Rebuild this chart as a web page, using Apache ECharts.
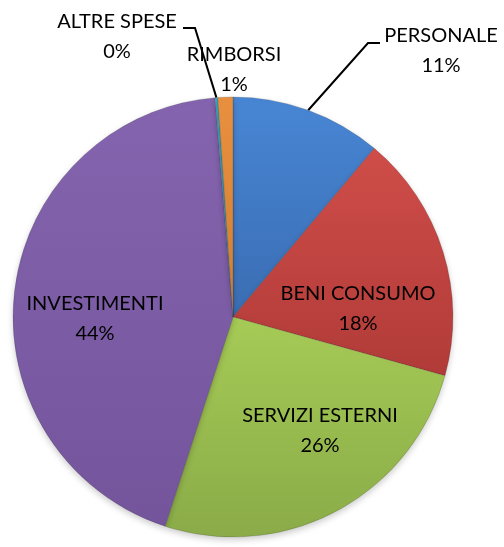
<!DOCTYPE html>
<html>
<head>
<meta charset="utf-8">
<script src="https://cdn.jsdelivr.net/npm/echarts@6/dist/echarts.min.js"></script>
<style>
	html, body { margin: 0; padding: 0; background: #fff; }
	#pie { width: 504px; height: 547px; }
</style>
</head>
<body>
<div id="pie"></div>
<script>
	// voci di spesa (in senso orario partendo dall'alto)
	var categories = ['PERSONALE', 'BENI CONSUMO', 'SERVIZI ESTERNI', 'INVESTIMENTI', 'ALTRE SPESE', 'RIMBORSI'];
	// quote (%)
	var values = [11.1, 18.2, 25.7, 43.7, 0.2, 1.1];
	// colore chiaro (alto) e scuro (basso) di ogni fetta
	var colorsTop = ['#4886d4', '#cf4d49', '#a6cb56', '#8464ae', '#3fabc6', '#e8903f'];
	var colorsBottom = ['#3a6db3', '#b13b38', '#8aab48', '#74559c', '#3596ad', '#d37f33'];

	// posizione etichette (centro del blocco) e gomito della linea guida
	var labelPos = [
		{x: 441, y: 51, line: [[368, 43], [380, 43]]},
		{x: 358, y: 309},
		{x: 320, y: 431},
		{x: 95, y: 319},
		{x: 117, y: 37, line: [[195, 28], [183, 28]]},
		{x: 234, y: 70}
	];
	var outside = [true, false, false, false, true, true];
	var withLine = [true, false, false, false, true, false];

	var myChart = echarts.init(document.getElementById('pie'));
	var data = categories.map(function (name, i) {
		return {
			name: name,
			value: values[i],
			itemStyle: {
				color: new echarts.graphic.LinearGradient(0, 0, 0, 1, [
					{offset: 0, color: colorsTop[i]},
					{offset: 1, color: colorsBottom[i]}
				])
			},
			label: {position: outside[i] ? 'outside' : 'inside'},
			labelLine: {show: withLine[i]}
		};
	});

	var option = {
		animation: false,
		series: [{
			type: 'pie',
			center: [233, 317],
			radius: 220,
			startAngle: 90,
			clockwise: true,
			percentPrecision: 0,
			avoidLabelOverlap: false,
			itemStyle: {
				borderColor: 'rgba(40,40,40,0.3)',
				borderWidth: 0.6,
				shadowBlur: 6,
				shadowColor: 'rgba(0,0,0,0.2)',
				shadowOffsetY: 3
			},
			label: {
				formatter: '{b}\n{d}%',
				color: '#000',
				fontFamily: 'Lato',
				fontSize: 20,
				lineHeight: 30,
				overflow: 'none'
			},
			labelLine: {
				length: 10,
				length2: 10,
				lineStyle: {color: '#000', width: 2}
			},
			emphasis: {disabled: true},
			labelLayout: function (params) {
				var p = labelPos[params.dataIndex];
				var res = {x: p.x, y: p.y, align: 'center', verticalAlign: 'middle', width: 200};
				if (p.line && params.labelLinePoints) {
					res.labelLinePoints = [params.labelLinePoints[0], p.line[0], p.line[1]];
				}
				return res;
			},
			data: data
		}]
	};
	myChart.setOption(option);
</script>
</body>
</html>
